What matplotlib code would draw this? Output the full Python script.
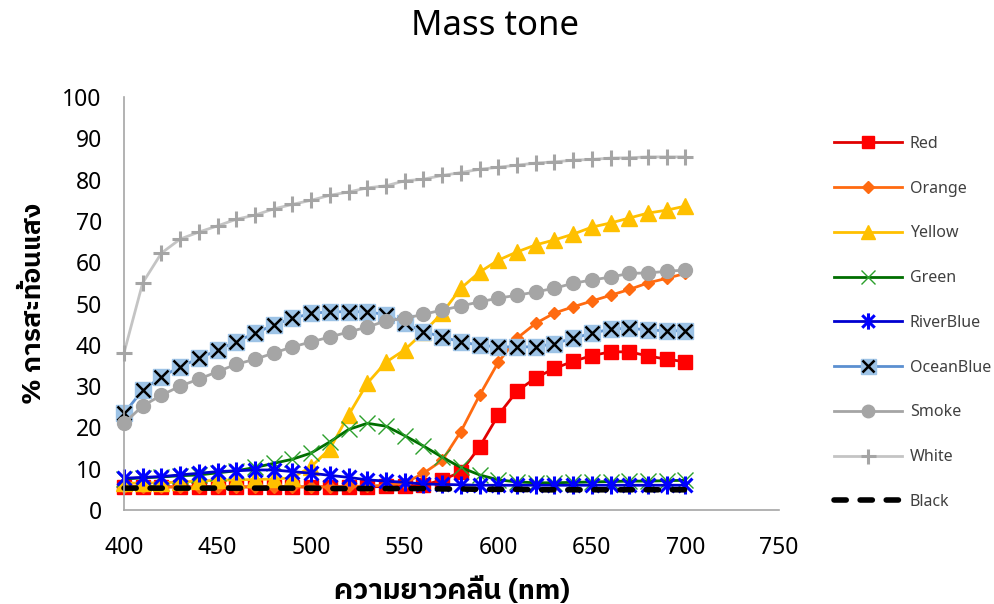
import matplotlib
matplotlib.use('Agg')
import matplotlib.pyplot as plt
from matplotlib import font_manager
from matplotlib.path import Path
from matplotlib.legend_handler import HandlerTuple

wavelength = list(range(400, 701, 10))

red = [5.6, 5.6, 5.6, 5.6, 5.6, 5.6, 5.6, 5.6, 5.6, 5.6, 5.6, 5.6, 5.6, 5.6, 5.7, 5.8, 6.0,
       7.3, 9.2, 15.3, 23.0, 28.8, 32.0, 34.3, 36.0, 37.4, 38.3, 38.3, 37.3, 36.5, 35.9]
orange = [5.6, 5.6, 5.6, 5.6, 5.6, 5.6, 5.6, 5.6, 5.6, 5.6, 5.6, 5.6, 5.7, 5.8, 6.0, 6.5, 8.9,
          12.0, 19.0, 27.8, 35.8, 41.6, 45.2, 47.7, 49.2, 50.6, 52.0, 53.4, 55.0, 56.1, 57.3]
yellow = [6.5, 6.5, 6.6, 6.8, 7.0, 7.2, 7.3, 7.4, 7.5, 7.8, 10.5, 14.8, 23.0, 30.7, 35.8, 38.8, 43.0,
          47.7, 53.7, 57.6, 60.5, 62.5, 64.2, 65.4, 66.8, 68.5, 69.5, 70.7, 71.9, 72.6, 73.6]
green = [7.5, 7.8, 8.0, 8.3, 8.5, 9.0, 9.5, 10.3, 11.3, 12.3, 13.8, 16.5, 19.5, 21.0, 20.3, 18.0, 15.5,
         12.8, 10.3, 8.5, 7.3, 6.8, 6.6, 6.6, 6.7, 6.8, 6.9, 7.0, 7.0, 7.1, 7.2]
river_blue = [7.7, 7.9, 8.1, 8.5, 8.9, 9.3, 9.5, 9.7, 9.7, 9.3, 8.9, 8.4, 7.9, 7.3, 7.0, 6.7, 6.3,
              6.2, 6.1, 6.0, 6.0, 6.0, 6.0, 6.0, 6.0, 6.0, 6.0, 6.0, 6.0, 6.0, 6.0]
ocean_blue = [23.4, 29.0, 32.2, 34.7, 36.7, 38.7, 40.8, 42.8, 44.8, 46.4, 47.6, 48.0, 48.0, 48.0, 47.3, 45.2, 43.2,
              41.9, 40.7, 39.9, 39.5, 39.5, 39.5, 40.3, 41.6, 42.8, 43.8, 44.0, 43.6, 43.4, 43.4]
smoke = [21.0, 25.2, 27.8, 30.0, 31.7, 33.5, 35.3, 36.5, 38.0, 39.5, 40.7, 41.9, 43.1, 44.3, 45.8, 46.4, 47.4,
         48.4, 49.4, 50.4, 51.3, 52.0, 52.8, 53.7, 54.9, 55.7, 56.4, 57.3, 57.4, 57.8, 58.1]
white = [38.0, 55.0, 62.2, 65.6, 67.3, 68.8, 70.4, 71.4, 72.9, 74.0, 75.0, 76.2, 77.0, 78.0, 78.5, 79.7, 80.1,
         81.0, 81.7, 82.5, 83.0, 83.5, 84.0, 84.3, 84.7, 84.9, 85.2, 85.3, 85.5, 85.5, 85.5]
black = [5.3, 5.3, 5.3, 5.3, 5.3, 5.3, 5.3, 5.3, 5.3, 5.3, 5.3, 5.2, 5.2, 5.2, 5.2, 5.2, 5.2,
         5.1, 5.1, 5.0, 5.0, 5.0, 4.9, 4.9, 4.9, 4.9, 4.9, 4.9, 4.9, 4.9, 4.9]

x_ticks = [400, 450, 500, 550, 600, 650, 700, 750]
y_ticks = list(range(0, 101, 10))
labels = ['Red', 'Orange', 'Yellow', 'Green', 'RiverBlue', 'OceanBlue', 'Smoke', 'White', 'Black']

# pick up any installed font that can draw Thai
thai_fonts = sorted({f.name for f in font_manager.fontManager.ttflist
                     if 'thai' in f.name.lower() or f.name in ('Loma', 'Garuda', 'Kinnari', 'Norasi',
                                                              'Waree', 'Sawasdee', 'Umpush', 'Laksaman')})
base = 'Noto Sans'
label_family = thai_fonts + [base, 'DejaVu Sans']
plt.rcParams['font.family'] = [base, 'DejaVu Sans']

# excel-style star: an x with a vertical bar through it
star = Path([(-1, -1), (1, 1), (-1, 1), (1, -1), (0, -1.3), (0, 1.3)],
            [Path.MOVETO, Path.LINETO, Path.MOVETO, Path.LINETO, Path.MOVETO, Path.LINETO])

fig = plt.figure(figsize=(9.95, 6.04), dpi=100)
ax = fig.add_axes([0.1246, 0.1556, 0.783 - 0.1246, 0.8394 - 0.1556])

h_red, = ax.plot(wavelength, red, color='#e00000', lw=2, marker='s', ms=10,
                 mfc='#ff0000', mec='#ff0000')
h_orange, = ax.plot(wavelength, orange, color='#ff6a10', lw=2, marker='D', ms=6.5,
                    mfc='#ff6a10', mec='#ff6a10')
h_yellow, = ax.plot(wavelength, yellow, color='#ffc000', lw=2, marker='^', ms=11,
                    mfc='#ffc000', mec='#ffc000')
h_green, = ax.plot(wavelength, green, color='#006e00', lw=2, marker='x', ms=11,
                   mec='#2ca02c', mew=1)
h_river, = ax.plot(wavelength, river_blue, color='#0000d0', lw=2, marker=star, ms=13,
                   mec='#0000ff', mew=2.2)
h_ocean, = ax.plot(wavelength, ocean_blue, color='#5b8fd0', lw=2, marker='s', ms=12,
                   mfc='#9dc3e6', mec='#9dc3e6')
h_ocean_x, = ax.plot(wavelength, ocean_blue, ls='none', marker='x', ms=10,
                     mec='black', mew=1.8)
h_smoke, = ax.plot(wavelength, smoke, color='#a5a5a5', lw=2, marker='o', ms=10,
                   mfc='#a5a5a5', mec='#a5a5a5')
h_white, = ax.plot(wavelength, white, color='#c4c4c4', lw=2, marker='+', ms=12,
                   mec='#a5a5a5', mew=2.2)
h_black, = ax.plot(wavelength, black, color='black', lw=4, ls=(0, (2.2, 2.5)),
                   dash_capstyle='round')

ax.set_xlim(400, 750)
ax.set_ylim(0, 100)
ax.set_xticks(x_ticks)
ax.set_yticks(y_ticks)
ax.tick_params(length=0, labelsize=16.5)
ax.tick_params(axis='x', pad=19)
ax.tick_params(axis='y', pad=16)
for side in ('top', 'right'):
    ax.spines[side].set_visible(False)
for side in ('left', 'bottom'):
    ax.spines[side].set_color('#a6a6a6')
    ax.spines[side].set_linewidth(1.2)
for ln in ax.get_lines():
    ln.set_clip_on(False)

fig.text(0.497, 0.957, 'Mass tone', ha='center', va='center', fontsize=25)
ax.set_xlabel('ความยาวคลื่น (nm)', family=label_family, fontsize=20.5, fontweight='bold', labelpad=12)
ax.set_ylabel('% การสะท้อนแสง', family=label_family, fontsize=19, fontweight='bold', labelpad=12)

handles = [h_red, h_orange, h_yellow, h_green, h_river, (h_ocean, h_ocean_x), h_smoke, h_white, h_black]
fig.legend(handles, labels, loc='upper left', bbox_to_anchor=(0.838, 0.775), frameon=False,
           fontsize=11.5, labelcolor='#404040', handlelength=4.3, handletextpad=0.45,
           labelspacing=1.8, borderpad=0, borderaxespad=0, markerscale=0.9,
           handler_map={tuple: HandlerTuple(ndivide=1)})

fig.savefig('out.png', dpi=100)
